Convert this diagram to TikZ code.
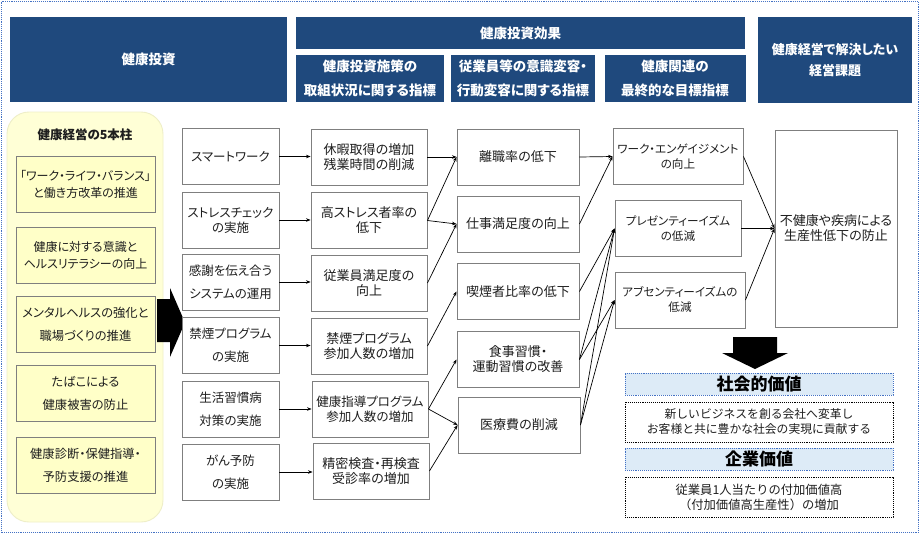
\documentclass[tikz,border=0pt]{standalone}
\usepackage{fontspec}
\setmainfont{Noto Sans CJK JP}[RawFeature={+palt}]
\newfontfamily\fwfont{Noto Sans CJK JP}
\usetikzlibrary{arrows.meta}
\definecolor{hdr}{RGB}{31,73,125}
\definecolor{boxline}{RGB}{127,127,127}
\definecolor{txt}{RGB}{30,30,30}
\definecolor{panel}{RGB}{255,255,214}
\definecolor{pbox}{RGB}{255,255,200}
\definecolor{pline}{RGB}{238,238,200}
\definecolor{lblue}{RGB}{221,235,247}
\definecolor{dblue}{RGB}{68,114,196}
\begin{document}
\begin{tikzpicture}[x=1pt,y=-1pt,
  hd/.style={fill=hdr, text=white, font=\bfseries\fontsize{13.5}{24}\selectfont, align=center, inner sep=0pt},
  bx/.style={draw=boxline, fill=white, text=txt, align=center, inner sep=0pt, minimum height=56pt, line width=0.9pt, font=\fontsize{13}{15}\selectfont},
  pb/.style={draw=boxline, fill=pbox, text=txt, align=center, inner sep=0pt, minimum width=139pt, minimum height=56pt, line width=0.9pt, font=\fontsize{12}{17}\selectfont},
  pbw/.style={pb, font=\fontsize{12.3}{23}\selectfont},
  col2/.style={bx, minimum width=97pt, font=\fontsize{12.5}{15}\selectfont},
  col2w/.style={col2, font=\fontsize{12.5}{23}\selectfont},
  col3/.style={bx, minimum width=116pt},
  col4/.style={bx, minimum width=122pt},
  col5/.style={bx, minimum width=130pt, font=\fontsize{11.6}{15}\selectfont},
  conn/.style={-{Stealth[length=4.5pt,width=3.5pt]}, line width=0.7pt, black},
  valhd/.style={draw=dblue, densely dotted, line width=0.9pt, fill=lblue, text=black, minimum width=268pt, minimum height=22pt, inner sep=0pt, font=\bfseries\fontsize{17}{18}\selectfont},
  valtx/.style={draw=black, densely dotted, line width=0.9pt, fill=white, text=txt, minimum width=268pt, minimum height=40pt, inner sep=0pt, align=center, font=\fwfont\fontsize{11.8}{15}\selectfont}
]
\useasboundingbox (0,0) rectangle (922,536);
\fill[white] (0,0) rectangle (922,536);
\draw[dblue, densely dotted, line width=0.9pt] (1.5,1.5) rectangle (918.5,532.5);

% headers
\node[hd, minimum width=277pt, minimum height=85pt] (h1) at (148.5,59.5) {健康投資};
\node[hd, minimum width=449pt, minimum height=32pt] (h2) at (520.5,33) {健康投資効果};
\node[hd, minimum width=148pt, minimum height=47pt] (h2a) at (370,78.5) {健康投資施策の\\取組状況に関する指標};
\node[hd, minimum width=144pt, minimum height=47pt] (h2b) at (523,78.5) {従業員等の意識変容・\\行動変容に関する指標};
\node[hd, minimum width=141pt, minimum height=47pt] (h2c) at (675,78.5) {健康関連の\\最終的な目標指標};
\node[hd, minimum width=154pt, minimum height=86pt, font=\bfseries\fontsize{13}{21}\selectfont] (h3) at (835,60) {健康経営で解決したい\\経営課題};

% left panel
\node[draw=pline, fill=panel, rounded corners=22pt, minimum width=156pt, minimum height=410pt, line width=0.9pt] (panel) at (85,317) {};
\node[text=txt, font=\bfseries\fontsize{12.5}{15}\selectfont] (ptitle) at (85,135) {健康経営の5本柱};
\node[pb] (p1) at (85.5,184.5) {「ワーク・ライフ・バランス」\\と働き方改革の推進};
\node[pb] (p2) at (85.5,255) {健康に対する意識と\\ヘルスリテラシーの向上};
\node[pbw] (p3) at (85.5,324.5) {メンタルヘルスの強化と\\職場づくりの推進};
\node[pbw] (p4) at (85.5,393) {たばこによる\\健康被害の防止};
\node[pbw] (p5) at (85.5,465.5) {健康診断・保健指導・\\予防支援の推進};

% big right arrow
\fill[black] (157,299) -- (170,299) -- (170,288) -- (185,322.5) -- (170,357) -- (170,342) -- (157,342) -- cycle;

% column 2
\node[col2] (s1) at (230.5,156.5) {スマートワーク};
\node[col2] (s2) at (230.5,220) {ストレスチェック\\の実施};
\node[col2w] (s3) at (230.5,282) {感謝を伝え合う\\システムの運用};
\node[col2w] (s4) at (230.5,345.5) {禁煙プログラム\\の実施};
\node[col2w] (s5) at (230.5,409) {生活習慣病\\対策の実施};
\node[col2w] (s6) at (230.5,472) {がん予防\\の実施};

% column 3
\node[col3] (c1) at (369,157) {休暇取得の増加\\残業時間の削減};
\node[col3] (c2) at (369,220.5) {高ストレス者率の\\低下};
\node[col3] (c3) at (369,283) {従業員満足度の\\向上};
\node[col3] (c4) at (369,346) {禁煙プログラム\\参加人数の増加};
\node[col3, font=\fontsize{12.5}{15}\selectfont] (c5) at (370,409) {健康指導プログラム\\参加人数の増加};
\node[col3] (c6) at (371,471) {精密検査・再検査\\受診率の増加};

% column 4
\node[col4] (d1) at (518,157) {離職率の低下};
\node[col4] (d2) at (518,224) {仕事満足度の向上};
\node[col4] (d3) at (518,291.5) {喫煙者比率の低下};
\node[col4] (d4) at (518,359.5) {食事習慣・\\運動習慣の改善};
\node[col4] (d5) at (519,425) {医療費の削減};

% column 5
\node[col5] (e1) at (678,156.5) {ワーク・エンゲイジメント\\の向上};
\node[col5, minimum width=126pt] (e2) at (678,228.5) {プレゼンティーイズム\\の低減};
\node[col5] (e3) at (680,300) {アブセンティーイズムの\\低減};

% final
\node[bx, minimum width=122pt, minimum height=197pt] (f) at (836,228.5) {不健康や疾病による\\生産性低下の防止};

% connectors col2 -> col3
\draw[conn] (s1.east) -- (s1.east -| c1.west);
\draw[conn] (s2.east) -- (s2.east -| c2.west);
\draw[conn] (s3.east) -- (s3.east -| c3.west);
\draw[conn] (s4.east) -- (s4.east -| c4.west);
\draw[conn] (s5.east) -- (s5.east -| c5.west);
\draw[conn] (s6.east) -- (s6.east -| c6.west);

% col3 -> col4
\draw[conn] (c1.east) -- (d1.west);
\draw[conn] (c2.east) -- (d1.west);
\draw[conn] (c2.east) -- (d2.west);
\draw[conn] (c3.east) -- (d2.west);
\draw[conn] (c4.east) -- (d3.west);
\draw[conn] (c5.east) -- (d4.west);
\draw[conn] (c5.east) -- (d5.west);
\draw[conn] (c6.east) -- (d5.west);

% col4 -> col5
\draw[conn] (d1.east) -- (e1.west);
\draw[conn] (d2.east) -- (e1.west);
\draw[conn] (d3.east) -- (e2.west);
\draw[conn] (d4.east) -- (e2.west);
\draw[conn] (d4.east) -- (e3.west);
\draw[conn] (d5.east) -- (e2.west);
\draw[conn] (d5.east) -- (e3.west);

% col5 -> final
\draw[conn] (e1.east) -- (f.west);
\draw[conn] (e2.east) -- (f.west);
\draw[conn] (e3.east) -- (f.west);

% down arrow
\fill[black] (733,337) -- (777,337) -- (777,353) -- (788,353) -- (755,369) -- (722,353) -- (733,353) -- cycle;

% values
\node[valhd] (sv) at (759,384) {社会的価値};
\node[valtx] (st1) at (759,422) {新しいビジネスを創る会社へ変革し\\お客様と共に豊かな社会の実現に貢献する};
\node[valhd] (cv) at (759,459) {企業価値};
\node[valtx, font=\fwfont\fontsize{12.3}{15}\selectfont] (st2) at (759,497) {従業員1人当たりの付加価値高\\（付加価値高生産性）の増加};
\end{tikzpicture}
\end{document}
